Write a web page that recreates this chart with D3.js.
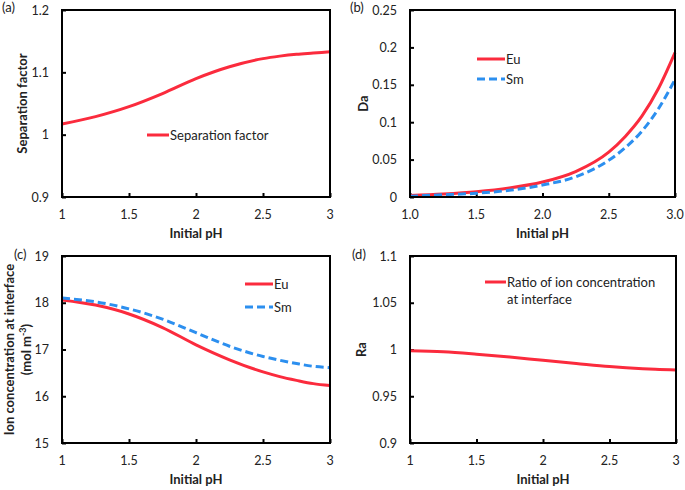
<!DOCTYPE html>
<html><head><meta charset="utf-8">
<script src="https://cdn.jsdelivr.net/npm/d3@7"></script>
<style>
body{margin:0;background:#fff;}
svg text{font-family:Lato,"Open Sans",sans-serif;fill:#222;}
</style></head>
<body><svg id="c" width="685" height="490"></svg>
<script>
// ---- data ----
const pH = [1, 1.25, 1.5, 1.75, 2, 2.25, 2.5, 2.625, 2.75, 2.875, 3];
const sepFactor = [1.017, 1.029, 1.045, 1.066, 1.090, 1.109, 1.122, 1.126, 1.129, 1.131, 1.133];
const daEu = [0.002, 0.004, 0.007, 0.012, 0.020, 0.034, 0.060, 0.081, 0.108, 0.145, 0.193];
const daSm = [0.001, 0.003, 0.005, 0.009, 0.016, 0.027, 0.049, 0.066, 0.088, 0.118, 0.157];
const ionEu = [18.06, 17.95, 17.76, 17.47, 17.10, 16.78, 16.52, 16.42, 16.34, 16.27, 16.23];
const ionSm = [18.10, 18.02, 17.87, 17.65, 17.36, 17.07, 16.85, 16.77, 16.70, 16.64, 16.61];
const ratio = [0.9986, 0.9975, 0.9950, 0.9920, 0.9884, 0.9850, 0.9817, 0.9805, 0.9795, 0.9787, 0.9780];

const xTicks = [1, 1.5, 2, 2.5, 3];
const yTicksA = [0.9, 1, 1.1, 1.2];
const yTicksB = [0, 0.05, 0.1, 0.15, 0.2, 0.25];
const yTicksC = [15, 16, 17, 18, 19];
const yTicksD = [0.9, 0.95, 1, 1.05, 1.1];

const RED = "#fb2b3d", BLUE = "#2c8fef";
const svg = d3.select("#c");

function panel(o){
  const g = svg.append("g");
  const x = d3.scaleLinear().domain([1,3]).range([o.l,o.r]);
  const y = d3.scaleLinear().domain(o.yd).range([o.b,o.t]);
  // ticks (inside)
  g.append("g").attr("transform",`translate(0,${o.b})`)
    .call(d3.axisTop(x).tickValues(xTicks).tickSize(4).tickFormat(""))
    .call(s=>{s.select(".domain").remove(); s.selectAll("line").attr("stroke","#000").attr("stroke-width",2);});
  g.append("g").attr("transform",`translate(${o.l},0)`)
    .call(d3.axisRight(y).tickValues(o.yt).tickSize(4).tickFormat(""))
    .call(s=>{s.select(".domain").remove(); s.selectAll("line").attr("stroke","#000").attr("stroke-width",2);});
  // tick labels
  g.selectAll(".xl").data(xTicks).join("text")
    .attr("x",d=>x(d)).attr("y",o.b+22).attr("text-anchor","middle")
    .attr("font-size",12.5).text(o.xf);
  g.selectAll(".yl").data(o.yt).join("text")
    .attr("x",o.l-13).attr("y",d=>y(d)+4.5).attr("text-anchor","end")
    .attr("font-size",12.5).text(o.yf);
  // series
  const line = d3.line().x((d,i)=>x(pH[i])).y(d=>y(d)).curve(d3.curveMonotoneX);
  o.series.forEach(s=>{
    g.append("path").attr("d",line(s.v)).attr("fill","none")
      .attr("stroke",s.c).attr("stroke-width",3)
      .attr("stroke-dasharray",s.dash?"8,4":null);
  });
  // frame
  g.append("rect").attr("x",o.l).attr("y",o.t).attr("width",o.r-o.l).attr("height",o.b-o.t)
    .attr("fill","none").attr("stroke","#000").attr("stroke-width",2);
  // legend
  o.legend.forEach(L=>{
    g.append("line").attr("x1",L.x).attr("x2",L.x+L.w).attr("y1",L.y).attr("y2",L.y)
      .attr("stroke",L.c).attr("stroke-width",3).attr("stroke-dasharray",L.dash?"8,4":null);
    L.lines.forEach((t,i)=>g.append("text").attr("x",L.x+L.w+1).attr("y",L.y+5+i*17)
      .attr("font-size",13).text(t));
  });
  // axis titles
  g.append("text").attr("x",(o.l+o.r)/2).attr("y",o.b+41).attr("text-anchor","middle")
    .attr("font-size",13).attr("font-weight","bold").text("Initial pH");
  o.ytitle.forEach((t,i)=>{
    const tx = o.ytx[i], ty=(o.t+o.b)/2;
    const te = g.append("text").attr("transform",`translate(${tx},${ty}) rotate(-90)`)
      .attr("text-anchor","middle").attr("font-size",13).attr("font-weight","bold");
    if (t === "(mol m-3)") {
      te.append("tspan").text("(mol m");
      te.append("tspan").attr("font-size",9).attr("dy",-5).text("-3");
      te.append("tspan").attr("dy",5).text(")");
    } else te.text(t);
  });
  g.append("text").attr("x",o.px).attr("y",o.py).attr("font-size",13).text(o.plabel);
}

const f2 = d=>d.toString();
panel({l:62,r:330,t:10,b:197,yd:[0.9,1.2],yt:yTicksA,xf:f2,yf:f2,
  series:[{v:sepFactor,c:RED}],
  legend:[{x:147,y:135,w:22,c:RED,lines:["Separation factor"]}],
  ytitle:["Separation factor"],ytx:[27],plabel:"(a)",px:2,py:12});
panel({l:410,r:675,t:10,b:197,yd:[0,0.25],yt:yTicksB,xf:d=>d.toFixed(1),yf:f2,
  series:[{v:daEu,c:RED},{v:daSm,c:BLUE,dash:true}],
  legend:[{x:477,y:59,w:28,c:RED,lines:["Eu"]},{x:477,y:79,w:28,c:BLUE,dash:true,lines:["Sm"]}],
  ytitle:["Da"],ytx:[368],plabel:"(b)",px:350,py:12});
panel({l:62,r:330,t:256,b:443,yd:[15,19],yt:yTicksC,xf:f2,yf:f2,
  series:[{v:ionEu,c:RED},{v:ionSm,c:BLUE,dash:true}],
  legend:[{x:245,y:284,w:28,c:RED,lines:["Eu"]},{x:245,y:307,w:28,c:BLUE,dash:true,lines:["Sm"]}],
  ytitle:["Ion concentration at interface","(mol m-3)"],ytx:[14,31],plabel:"(c)",px:14,py:259});
panel({l:410,r:676,t:256,b:443,yd:[0.9,1.1],yt:yTicksD,xf:f2,yf:f2,
  series:[{v:ratio,c:RED}],
  legend:[{x:485,y:282,w:21,c:RED,lines:["Ratio of ion concentration","at interface"]}],
  ytitle:["Ra"],ytx:[366],plabel:"(d)",px:352,py:259});
</script></body></html>
